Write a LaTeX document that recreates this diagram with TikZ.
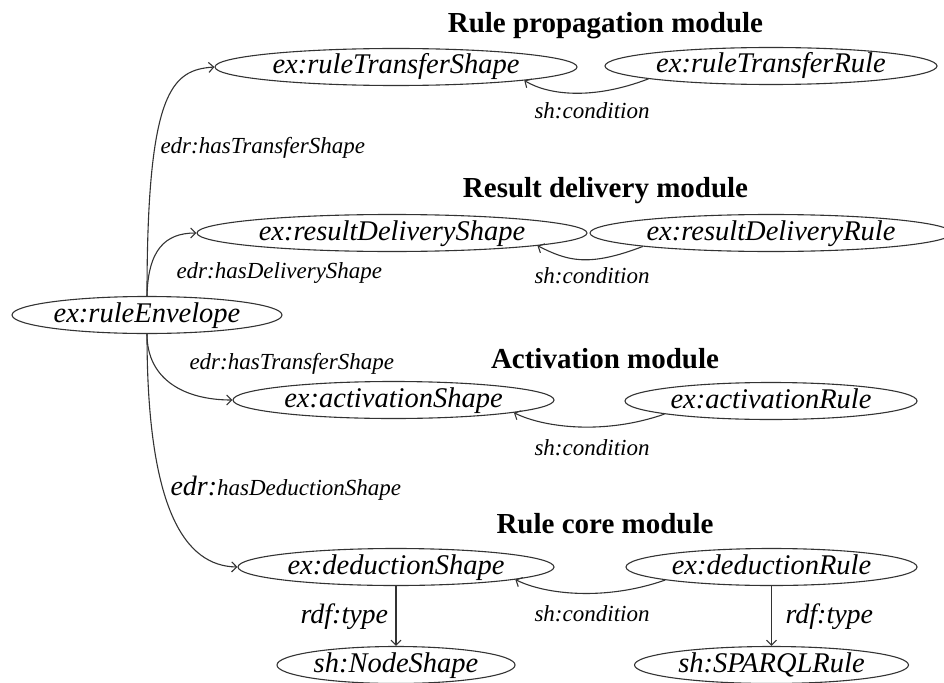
\documentclass[tikz,border=0pt]{standalone}
\usepackage{fontspec}
\setmainfont{Liberation Serif}
\usetikzlibrary{shapes.geometric,arrows.meta}
\tikzset{
  ell/.style={ellipse, draw=black!80, line width=1.1pt, inner sep=0pt, minimum height=37pt,
    text height=20pt, text depth=6pt, font=\fontsize{28.5}{30}\selectfont\itshape},
  ttl/.style={anchor=base, font=\fontsize{29}{31}\selectfont\bfseries},
  lbl/.style={anchor=base west, font=\fontsize{23}{25}\selectfont\itshape},
  biglbl/.style={anchor=base west, font=\fontsize{28}{30}\selectfont\itshape},
  arr/.style={draw=black!80, line width=1.1pt, -{Straight Barb[length=5pt,width=10pt]}},
}
\begin{document}
\begin{tikzpicture}[x=1pt,y=-1pt]
\useasboundingbox (0,0) rectangle (944,682);
% titles
\node[ttl] (t1) at (605.5,33) {Rule propagation module};
\node[ttl] (t2) at (605.5,197) {Result delivery module};
\node[ttl] (t3) at (605,368) {Activation module};
\node[ttl] (t4) at (605,533) {Rule core module};
% nodes
\node[ell, minimum width=270pt] (env) at (147,315) {ex:ruleEnvelope};
\node[ell, minimum width=362pt] (rts) at (396,67) {ex:ruleTransferShape};
\node[ell, minimum width=332pt] (rtr) at (771,66) {ex:ruleTransferRule};
\node[ell, minimum width=390pt] (rds) at (392,233) {ex:resultDeliveryShape};
\node[ell, minimum width=362pt] (rdr) at (771,233) {ex:resultDeliveryRule};
\node[ell, minimum width=321pt] (as) at (393.5,400) {ex:activationShape};
\node[ell, minimum width=292pt] (ar) at (771,401) {ex:activationRule};
\node[ell, minimum width=316pt] (ds) at (396,567) {ex:deductionShape};
\node[ell, minimum width=291pt] (dr) at (771.5,567) {ex:deductionRule};
\node[ell, minimum width=238pt] (ns) at (396,665) {sh:NodeShape};
\node[ell, minimum width=274pt] (sr) at (771.5,665) {sh:SPARQLRule};
% envelope edges
\draw[arr] (env.north) .. controls (147,90) and (172,70) .. (rts.west);
\draw[arr] (env.north) .. controls (148,250) and (165,233) .. (rds.west);
\draw[arr] (env.south) .. controls (147,380) and (185,400) .. (as.west);
\draw[arr] (env.south) .. controls (147,510) and (185,566) .. (ds.west);
% sh:condition edges
\draw[arr] (rtr.186) .. controls +(-55,21) and +(25,15) .. (rts.354);
\draw[arr] (rdr.186) .. controls +(-55,21) and +(30,15) .. (rds.355);
\draw[arr] (ar.187) .. controls +(-60,21) and +(30,15) .. (as.354);
\draw[arr] (dr.187) .. controls +(-60,21) and +(30,15) .. (ds.354);
% rdf:type edges
\draw[arr] (ds.south) -- (ns.north);
\draw[arr] (dr.south) -- (sr.north);
% labels
\node[lbl] (l1) at (157,153) {edr:hasTransferShape};
\node[lbl] (l2) at (173,278) {edr:hasDeliveryShape};
\node[lbl] (l3) at (186,369) {edr:hasTransferShape};
\node[lbl] (l4) at (167,495) {{\fontsize{28}{30}\selectfont edr:}hasDeductionShape};
\node[lbl] (c1) at (531,118) {sh:condition};
\node[lbl] (c2) at (531,283) {sh:condition};
\node[lbl] (c3) at (531,455) {sh:condition};
\node[lbl] (c4) at (531,621) {sh:condition};
\node[biglbl] (r1) at (297,623) {rdf:type};
\node[biglbl] (r2) at (782,623) {rdf:type};
\end{tikzpicture}
\end{document}
